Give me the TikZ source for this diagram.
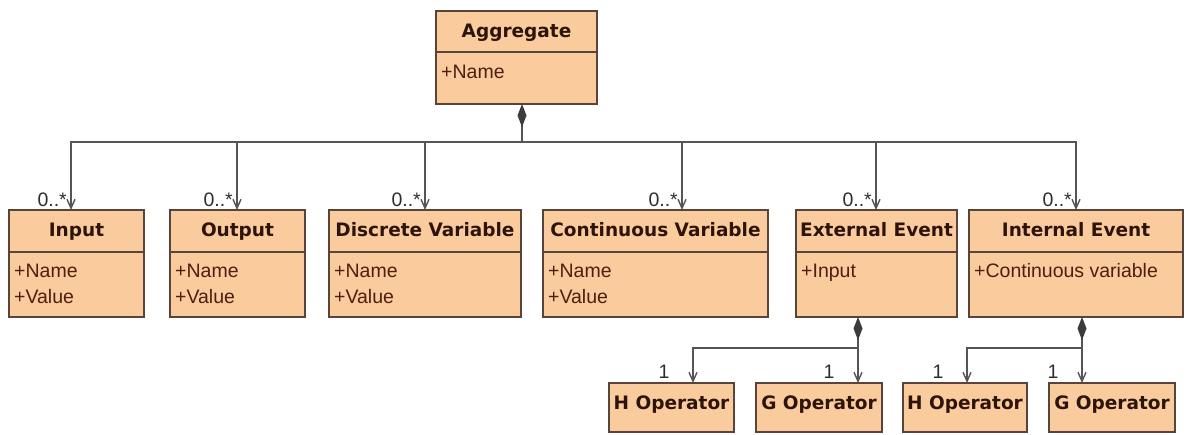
\documentclass[tikz,border=0pt]{standalone}
\usepackage{fontspec}
\setmainfont{Liberation Sans}
\newfontfamily\titlefont{DejaVu Sans}
\usetikzlibrary{arrows.meta}

\definecolor{classfill}{RGB}{250,203,157}
\definecolor{classborder}{RGB}{88,68,56}
\definecolor{titlecol}{RGB}{45,20,10}
\definecolor{attrcol}{RGB}{78,30,16}
\definecolor{linkcol}{RGB}{85,85,85}
\definecolor{diacol}{RGB}{60,60,60}
\definecolor{multcol}{RGB}{45,45,45}

\tikzset{
  umlclass/.style={draw=classborder, fill=classfill, line width=1.3pt,
    inner sep=0pt, outer sep=0pt, anchor=north west},
  umlrule/.style={draw=classborder, line width=1.3pt},
  classtitle/.style={font=\titlefont\bfseries\fontsize{18.5}{22}\selectfont,
    text=titlecol, inner sep=0pt, anchor=base},
  attr/.style={font=\fontsize{19.5}{23}\selectfont, text=attrcol,
    inner sep=0pt, anchor=base west},
  mult/.style={font=\fontsize{19.5}{23}\selectfont, text=multcol, inner sep=0pt},
  link/.style={draw=linkcol, line width=1.4pt},
  navarrow/.style={link, arrows={-Straight Barb[length=9pt,width=8pt]}},
  wholepart/.style={link, arrows={Diamond[length=23pt,width=9pt,color=diacol,fill=diacol]-}}
}

% box with its name: #1 node name, #2 left, #3 top, #4 right, #5 bottom, #6 title
\newcommand\umlbox[6]{%
  \node[umlclass, minimum width={(#4)-(#2)}, minimum height={(#5)-(#3)}] (#1) at (#2,#3) {};
  \node[classtitle] (#1-title) at ({((#2)+(#4))/2},{(#3)+26}) {#6};
}

\begin{document}
\begin{tikzpicture}[x=1pt, y=-1pt]
\useasboundingbox[fill=white] (0,0) rectangle (1189,434);

% ---------- classes ----------
\umlbox{aggregate}{436}{11}{597}{104}{Aggregate}
\draw[umlrule] (436,52) -- (597,52);
\node[attr] (aggregate-a1) at (441,78) {+Name};

\umlbox{input}{9}{210}{144}{317}{Input}
\draw[umlrule] (9,252) -- (144,252);
\node[attr] (input-a1) at (14,277) {+Name};
\node[attr] (input-a2) at (14,303) {+Value};

\umlbox{output}{170}{210}{305}{317}{Output}
\draw[umlrule] (170,252) -- (305,252);
\node[attr] (output-a1) at (175,277) {+Name};
\node[attr] (output-a2) at (175,303) {+Value};

\umlbox{discrete}{329}{210}{521}{317}{Discrete Variable}
\draw[umlrule] (329,252) -- (521,252);
\node[attr] (discrete-a1) at (334,277) {+Name};
\node[attr] (discrete-a2) at (334,303) {+Value};

\umlbox{continuous}{543}{210}{768}{317}{Continuous Variable}
\draw[umlrule] (543,252) -- (768,252);
\node[attr] (continuous-a1) at (548,277) {+Name};
\node[attr] (continuous-a2) at (548,303) {+Value};

\umlbox{extevent}{796}{210}{957}{317}{External Event}
\draw[umlrule] (796,252) -- (957,252);
\node[attr] (extevent-a1) at (801,277) {+Input};

\umlbox{intevent}{969}{210}{1183}{317}{Internal Event}
\draw[umlrule] (969,252) -- (1183,252);
\node[attr] (intevent-a1) at (974,277) {+Continuous variable};

\umlbox{hop1}{609}{383}{734}{432}{H Operator}
\umlbox{gop1}{756}{383}{882}{432}{G Operator}
\umlbox{hop2}{903}{383}{1027}{432}{H Operator}
\umlbox{gop2}{1049}{383}{1175}{432}{G Operator}

% ---------- composition: Aggregate ----------
\coordinate (aggbus) at (522,142);
\draw[wholepart] ([xshift=5.5pt]aggregate.south) -- (aggbus);
\draw[navarrow] (aggbus) -| ([xshift=-5.5pt]input.north);
\draw[navarrow] (aggbus) -| ([xshift=-0.5pt]output.north);
\draw[navarrow] (aggbus) -| (discrete.north);
\draw[navarrow] (aggbus) -| ([xshift=26.5pt]continuous.north);
\draw[navarrow] (aggbus) -| ([xshift=-0.5pt]extevent.north);
\draw[navarrow] (aggbus) -| (intevent.north);

\node[mult, anchor=base east] (m-input) at (67,206) {0..*};
\node[mult, anchor=base east] (m-output) at (233,206) {0..*};
\node[mult, anchor=base east] (m-discrete) at (421,206) {0..*};
\node[mult, anchor=base east] (m-continuous) at (678,206) {0..*};
\node[mult, anchor=base east] (m-extevent) at (872,206) {0..*};
\node[mult, anchor=base east] (m-intevent) at (1072,206) {0..*};

% ---------- composition: External Event ----------
\coordinate (extbus) at (858,348);
\draw[wholepart] ([xshift=-18.5pt]extevent.south) -- (extbus);
\draw[navarrow] (extbus) -| ([xshift=21.5pt]hop1.north);
\draw[navarrow] (extbus) -- ([xshift=39pt]gop1.north);
\node[mult, anchor=base] (m-hop1) at (664,378) {1};
\node[mult, anchor=base] (m-gop1) at (829,378) {1};

% ---------- composition: Internal Event ----------
\coordinate (intbus) at (1082,348);
\draw[wholepart] ([xshift=6pt]intevent.south) -- (intbus);
\draw[navarrow] (intbus) -| ([xshift=2pt]hop2.north);
\draw[navarrow] (intbus) -- ([xshift=-30pt]gop2.north);
\node[mult, anchor=base] (m-hop2) at (938,378) {1};
\node[mult, anchor=base] (m-gop2) at (1053,378) {1};
\end{tikzpicture}
\end{document}
